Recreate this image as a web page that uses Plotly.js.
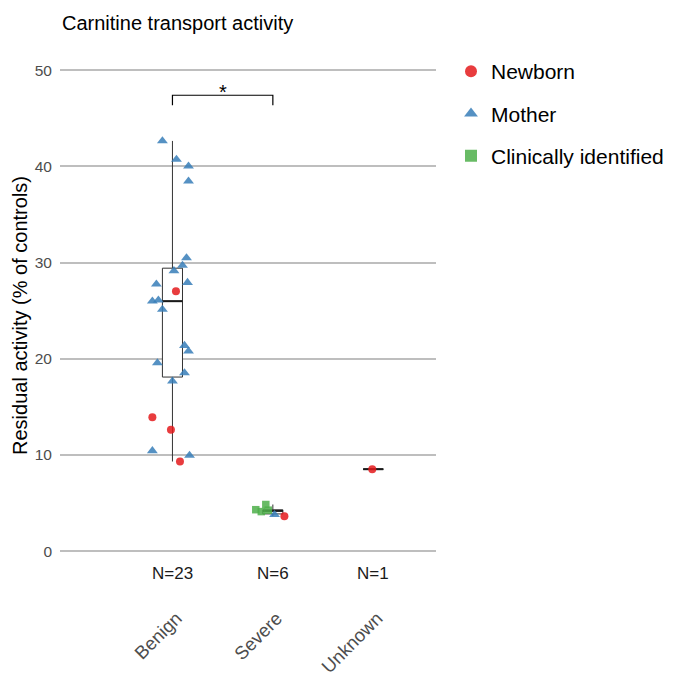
<!DOCTYPE html>
<html>
<head>
<meta charset="utf-8">
<script src="https://cdn.plot.ly/plotly-3.0.1.min.js"></script>
<style>html,body{margin:0;padding:0;background:#fff}#chart{width:673px;height:676px}</style>
</head>
<body>
<div id="chart"></div>
<script>
// ---- Data ----
const categories = ["Benign", "Severe", "Unknown"];
const groups = ["Newborn", "Mother", "Clinically identified"];

// Newborn (circles)
const newbornCat    = ["Benign", "Benign", "Benign", "Benign", "Severe", "Unknown"];
const newbornJitter = [0.035, -0.20, -0.015, 0.075, 0.115, -0.01];
const newbornValue  = [27.03, 13.93, 12.61, 9.32, 3.64, 8.52];

// Mother (triangles)
const motherCat = ["Benign","Benign","Benign","Benign","Benign","Benign","Benign","Benign","Benign","Benign",
                   "Benign","Benign","Benign","Benign","Benign","Benign","Benign","Benign","Benign","Severe"];
const motherJitter = [-0.10, 0.04, 0.16, 0.16, 0.14, 0.10, 0.015, -0.16, 0.15, -0.20,
                      -0.14, -0.10, -0.15, 0.12, 0.16, 0.12, 0.0, -0.20, 0.17, 0.017];
const motherValue  = [42.65, 40.72, 40.02, 38.46, 30.49, 29.70, 29.14, 27.75, 27.93, 25.99,
                      26.09, 25.13, 19.57, 21.38, 20.79, 18.53, 17.67, 10.43, 9.95, 3.79];

// Clinically identified (squares)
const clinicalCat    = ["Severe", "Severe", "Severe", "Severe"];
const clinicalJitter = [-0.17, -0.115, -0.07, -0.045];
const clinicalValue  = [4.31, 4.11, 4.85, 4.26];

// significance bracket
const sigPair = ["Benign", "Severe"];
const sigLabel = "*";
const sigLevel = 47.4;

const yTicks = [0, 10, 20, 30, 40, 50];

// ---- Styles ----
const FONT = "Liberation Sans, Arial, sans-serif";
const colors = ["#E41A1C", "#377EB8", "#4DAF4A"];
const symbols = ["circle", "triangle-up", "square"];
const sizes = [8, 9.5, 7.5];
const boxHalf = 0.1;

const idx = c => categories.indexOf(c);

// gather values per category for box stats (R type-7 quantiles)
const allCat = newbornCat.concat(motherCat, clinicalCat);
const allVal = newbornValue.concat(motherValue, clinicalValue);
function quant(sorted, p) {
  const h = (sorted.length - 1) * p;
  const lo = Math.floor(h), hi = Math.ceil(h);
  return sorted[lo] + (h - lo) * (sorted[hi] - sorted[lo]);
}
const stats = categories.map(c => {
  const v = allVal.filter((_, i) => allCat[i] === c).sort((a, b) => a - b);
  const q1 = quant(v, 0.25), med = quant(v, 0.5), q3 = quant(v, 0.75);
  const iqr = q3 - q1;
  const lf = Math.min(...v.filter(x => x >= q1 - 1.5 * iqr));
  const uf = Math.max(...v.filter(x => x <= q3 + 1.5 * iqr));
  return {n: v.length, q1, med, q3, lf, uf};
});

const traces = [];
traces.push({
  type: "box",
  x: categories.map((c, i) => i),
  q1: stats.map(s => s.q1),
  median: stats.map(s => s.med),
  q3: stats.map(s => s.q3),
  lowerfence: stats.map(s => s.lf),
  upperfence: stats.map(s => s.uf),
  width: boxHalf * 2,
  whiskerwidth: 0,
  boxpoints: false,
  fillcolor: "#FFFFFF",
  line: {color: "#333333", width: 1},
  showlegend: false,
  hoverinfo: "skip"
});
// thicker median bars
const mx = [], my = [];
stats.forEach((s, i) => { mx.push(i - boxHalf, i + boxHalf, null); my.push(s.med, s.med, null); });
traces.push({type: "scatter", mode: "lines", x: mx, y: my,
  line: {color: "#1A1A1A", width: 2}, showlegend: false, hoverinfo: "skip"});

const sets = [
  [newbornCat, newbornJitter, newbornValue],
  [motherCat, motherJitter, motherValue],
  [clinicalCat, clinicalJitter, clinicalValue]
];
sets.forEach((s, g) => {
  traces.push({
    type: "scatter", mode: "markers", name: groups[g], legendgroup: groups[g],
    x: s[0].map((c, i) => idx(c) + s[1][i]),
    y: s[2],
    marker: {color: colors[g], symbol: symbols[g], size: sizes[g], opacity: 0.85, line: {width: 0}},
    cliponaxis: false
  });
});

const annotations = categories.map((c, i) => ({
  x: i, y: -2.3, xref: "x", yref: "y", text: "N=" + stats[i].n, showarrow: false,
  font: {family: FONT, size: 17, color: "#1A1A1A"}, yanchor: "middle"
}));
const a = idx(sigPair[0]), b = idx(sigPair[1]);
annotations.push({x: (a + b) / 2, y: sigLevel, xref: "x", yref: "y", text: sigLabel, showarrow: false,
  yanchor: "bottom", yshift: -10, font: {family: FONT, size: 20, color: "#000"}});

const shapes = [{
  type: "path", xref: "x", yref: "y",
  path: `M${a},${sigLevel - 1.05} L${a},${sigLevel} L${b},${sigLevel} L${b},${sigLevel - 1.05}`,
  line: {color: "#000", width: 1.2}
}];

const layout = {
  width: 673, height: 676,
  paper_bgcolor: "#fff", plot_bgcolor: "#fff",
  margin: {l: 60, r: 237, t: 50.8, b: 96.0, autoexpand: false},
  font: {family: FONT, color: "#000"},
  title: {text: "Carnitine transport activity", xref: "container", yref: "container",
    x: 62 / 673, xanchor: "left", y: 1 - 23 / 676, yanchor: "middle",
    font: {family: FONT, size: 20, color: "#000"}},
  xaxis: {range: [-1.12, 2.625], tickvals: categories.map((c, i) => i), ticktext: categories,
    tickangle: -45, showgrid: false, zeroline: false, showline: false, ticks: "",
    ticklabelstandoff: 23, ticklabelshift: 4, automargin: false,
    tickfont: {family: FONT, size: 18.5, color: "#4D4D4D"}, fixedrange: true},
  yaxis: {range: [-3, 52], tickvals: yTicks, showgrid: true, gridcolor: "#BEBEBE", gridwidth: 2,
    zeroline: false, showline: false, ticks: "", ticklabelstandoff: 7, automargin: false,
    tickfont: {family: FONT, size: 15.5, color: "#4D4D4D"},
    title: {text: "Residual activity (% of controls)", standoff: 1,
      font: {family: FONT, size: 20, color: "#000"}}},
  legend: {xref: "container", yref: "container", x: 451 / 673, xanchor: "left",
    y: 1 - 51 / 676, yanchor: "top", tracegroupgap: 12,
    font: {family: FONT, size: 21, color: "#000"}, itemsizing: "constant", bgcolor: "rgba(0,0,0,0)"},
  annotations: annotations,
  shapes: shapes,
  showlegend: true
};

Plotly.newPlot("chart", traces, layout, {displayModeBar: false, staticPlot: true});
</script>
</body>
</html>
